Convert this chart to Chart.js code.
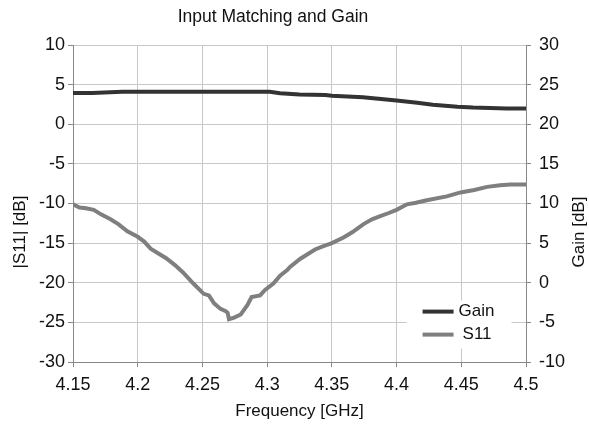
<!DOCTYPE html>
<html>
<head>
<meta charset="utf-8">
<script src="https://cdn.jsdelivr.net/npm/chart.js@4/dist/chart.umd.min.js"></script>
<style>
html,body{margin:0;padding:0;background:#fff;}
#wrap{width:589px;height:428px;}
</style>
</head>
<body>
<div id="wrap"><canvas id="c" width="589" height="428"></canvas></div>
<script>
const s11Freq = [4.150,4.155,4.160,4.166,4.172,4.179,4.185,4.192,4.200,4.205,4.210,4.216,4.222,4.229,4.235,4.243,4.251,4.255,4.259,4.264,4.268,4.2695,4.2705,4.2745,4.2796,4.2848,4.288,4.2945,4.2984,4.3048,4.310,4.3155,4.3177,4.3254,4.337,4.343,4.350,4.359,4.366,4.3745,4.381,4.3874,4.394,4.400,4.408,4.415,4.4233,4.4388,4.4494,4.460,4.470,4.480,4.488,4.500];
const s11Values = [-10.1,-10.5,-10.6,-10.8,-11.4,-12.0,-12.6,-13.5,-14.2,-14.8,-15.7,-16.3,-16.9,-17.8,-18.7,-20.1,-21.4,-21.6,-22.6,-23.3,-23.6,-23.8,-24.6,-24.4,-24.0,-22.8,-21.8,-21.6,-20.9,-20.1,-19.1,-18.4,-18.0,-17.0,-15.8,-15.4,-15.0,-14.3,-13.6,-12.6,-12.0,-11.6,-11.2,-10.8,-10.1,-9.9,-9.6,-9.1,-8.6,-8.3,-7.9,-7.7,-7.6,-7.6];
const gainFreq = [4.150,4.165,4.188,4.302,4.310,4.325,4.345,4.350,4.374,4.400,4.416,4.428,4.447,4.459,4.485,4.500];
const gainValues = [23.95,23.95,24.1,24.1,23.9,23.75,23.7,23.6,23.4,23.0,22.7,22.45,22.2,22.1,22.0,22.0];
const seriesNames = ["Gain","S11"];
const seriesColors = ["#333333","#7f7f7f"];
const titleText = "Input Matching and Gain";
const xTitle = "Frequency [GHz]";
const yLeftTitle = "|S11| [dB]";
const yRightTitle = "Gain [dB]";

const FONT = "'Liberation Sans', Arial, sans-serif";

const extrasPlugin = {
  id: 'extras',
  afterDatasetsDraw(chart) {
    const ctx = chart.ctx;
    const xs = chart.scales.x, ys = chart.scales.y;
    const bx = xs.getPixelForValue(4.4) + 10, by = ys.getPixelForValue(-22) + 2;
    ctx.save();
    ctx.fillStyle = '#fff';
    ctx.fillRect(bx, by, 105, 48);
    ctx.font = "17px " + FONT;
    ctx.textBaseline = 'middle';
    ctx.textAlign = 'left';
    const rows = [[seriesNames[0], seriesColors[0], by + 11],[seriesNames[1], seriesColors[1], by + 34]];
    rows.forEach((r, i) => {
      ctx.strokeStyle = r[1];
      ctx.lineWidth = 4;
      ctx.beginPath();
      ctx.moveTo(bx + 16, r[2]);
      ctx.lineTo(bx + 47, r[2]);
      ctx.stroke();
      ctx.fillStyle = '#111';
      ctx.fillText(r[0], bx + (i === 0 ? 52 : 56), r[2]);
    });
    ctx.fillStyle = '#111';
    // chart title
    ctx.font = "17.5px " + FONT;
    ctx.textAlign = 'center';
    ctx.textBaseline = 'middle';
    ctx.fillText(titleText, 273, 17);
    // axis titles, both reading bottom-to-top
    ctx.font = "17px " + FONT;
    [[yLeftTitle, 20], [yRightTitle, 579]].forEach(t => {
      ctx.save();
      ctx.translate(t[1], 232);
      ctx.rotate(-Math.PI / 2);
      ctx.fillText(t[0], 0, 0);
      ctx.restore();
    });
    ctx.restore();
  }
};

new Chart(document.getElementById('c'), {
  type: 'scatter',
  data: {
    datasets: [
      {
        label: seriesNames[0],
        data: gainFreq.map((f, i) => ({x: f, y: gainValues[i]})),
        yAxisID: 'y1',
        showLine: true,
        borderColor: seriesColors[0],
        backgroundColor: seriesColors[0],
        borderWidth: 4,
        pointRadius: 0,
        tension: 0
      },
      {
        label: seriesNames[1],
        data: s11Freq.map((f, i) => ({x: f, y: s11Values[i]})),
        yAxisID: 'y',
        showLine: true,
        borderColor: seriesColors[1],
        backgroundColor: seriesColors[1],
        borderWidth: 4,
        pointRadius: 0,
        tension: 0
      }
    ]
  },
  options: {
    responsive: false,
    animation: false,
    layout: { padding: { top: 45, left: 0, right: 0, bottom: 0 } },
    plugins: {
      legend: { display: false },
      tooltip: { enabled: false },
      title: { display: false }
    },
    scales: {
      x: {
        type: 'linear',
        min: 4.15, max: 4.5,
        afterBuildTicks(scale) {
          const t = [];
          for (let i = 0; i <= 7; i++) t.push({value: +(4.15 + i * 0.05).toFixed(2)});
          scale.ticks = t;
        },
        afterFit(scale) { scale.height = 66; },
        grid: { color: '#c8c8c8', lineWidth: 1, tickLength: 5, tickColor: '#888' },
        border: { color: '#888' },
        ticks: {
          color: '#111',
          font: { family: FONT, size: 18 },
          padding: 7,
          maxRotation: 0,
          callback: v => String(+(+v).toFixed(2))
        },
        title: {
          display: true, text: xTitle, color: '#111',
          font: { family: FONT, size: 17 },
          padding: { top: 0, bottom: 6 }
        }
      },
      y: {
        position: 'left',
        min: -30, max: 10,
        ticks: { stepSize: 5, color: '#111', font: { family: FONT, size: 18 }, padding: 3 },
        afterFit(scale) { scale.width = 73; },
        grid: { color: '#c8c8c8', lineWidth: 1, tickLength: 5, tickColor: '#888' },
        border: { color: '#888' },
        title: { display: false }
      },
      y1: {
        position: 'right',
        min: -10, max: 30,
        ticks: { stepSize: 5, color: '#111', font: { family: FONT, size: 18 }, padding: 8 },
        afterFit(scale) { scale.width = 63; },
        grid: { drawOnChartArea: false, tickLength: 5, tickColor: '#888' },
        border: { color: '#888' },
        title: { display: false }
      }
    }
  },
  plugins: [extrasPlugin]
});
</script>
</body>
</html>
